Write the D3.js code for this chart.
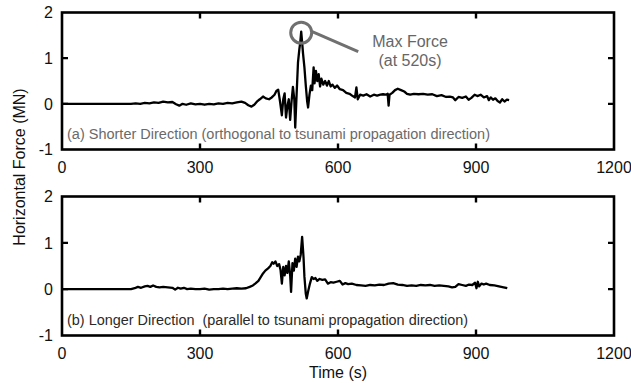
<!DOCTYPE html>
<html>
<head>
<meta charset="utf-8">
<script src="https://cdn.jsdelivr.net/npm/d3@7"></script>
<style>
  body { margin: 0; background: white; }
  svg { display: block; font-family: Arial, "Liberation Sans", sans-serif; }
</style>
</head>
<body>
<div id="app"></div>
<script>
// (a) shorter direction, time in s / force in MN
const timeA = [0,150,160,170,180,190,200,210,220,230,240,248,255,262,270,280,290,300,310,320,330,340,350,360,370,380,390,398,405,412,418,425,430,437,443,450,456,462,466,470,474,478,481,484,487,490,493,496,499,502,505,507,510,513,516,518,520,522,524,527,530,533,535,538,541,544,547,549,552,555,558,561,564,568,572,576,580,584,588,593,598,604,611,618,625,632,637,640,643,648,655,662,670,678,685,692,698,704,708,710,712,718,724,730,737,744,750,757,765,775,785,795,805,815,825,835,843,850,855,862,870,878,884,890,897,903,910,917,924,928,932,937,942,947,952,957,962,967,972]
const forceA = [0,0,0.01,0,0.02,0.01,0.03,0.02,0.05,0.03,0.04,-0.01,-0.04,0,-0.02,0.01,-0.01,0,-0.02,0,-0.01,0.01,0,0.02,0.01,0.03,0.05,0.02,-0.03,-0.06,-0.02,0.06,0.1,0.16,0.12,0.1,0.14,0.2,0.28,0.31,0.05,-0.25,0.1,0.23,-0.3,-0.05,0.1,-0.35,0.05,0.37,0.1,-0.52,0.2,0.9,1.2,1.35,1.58,1.35,1.1,0.8,0.4,0.05,-0.08,0.2,0.4,0.3,0.8,0.45,0.72,0.5,0.65,0.38,0.55,0.42,0.5,0.4,0.5,0.38,0.42,0.35,0.4,0.32,0.3,0.24,0.22,0.17,0.14,0.36,0.1,0.2,0.18,0.21,0.16,0.2,0.18,0.2,0.21,0.2,0.22,-0.04,0.2,0.24,0.3,0.33,0.3,0.27,0.22,0.2,0.22,0.21,0.22,0.2,0.21,0.17,0.19,0.15,0.16,0.14,0.08,0.15,0.13,0.16,0.09,0.13,0.2,0.17,0.2,0.14,0.17,0.08,0.14,0.09,0.12,0.06,0.03,0.1,0.05,0.09,0.08]

// (b) longer direction
const timeB = [0,150,158,165,172,180,186,192,198,205,212,220,230,240,246,252,258,265,272,280,290,300,310,320,330,340,350,360,370,380,390,400,408,415,420,427,432,437,442,448,453,457,460,464,468,472,475,478,481,484,487,490,493,496,498,501,504,507,510,513,516,519,522,525,527,530,532,535,539,543,547,551,555,560,566,572,578,584,590,597,604,610,616,622,630,640,650,660,670,680,690,700,710,720,730,740,750,760,770,780,790,800,810,820,830,840,848,855,862,870,878,885,892,898,901,904,907,912,917,922,930,940,950,960,968]
const forceB = [0,0,0.02,0.05,0.03,0.06,0.07,0.05,0.08,0.05,0.04,0.05,0.04,0.03,-0.01,0.03,0.01,0.03,0,0.01,0,0,0.01,-0.01,0,0,0.01,0,0.01,0.02,0.01,0.02,0.05,0.08,0.12,0.18,0.26,0.34,0.4,0.45,0.5,0.58,0.55,0.6,0.5,0.54,0.42,0.12,0.48,0.3,0.5,0.35,0.6,0.3,-0.06,0.56,0.4,0.66,0.48,0.7,0.6,0.75,1.13,0.7,0.27,-0.1,-0.2,-0.05,0.12,0.26,0.22,0.24,0.18,0.22,0.2,0.21,0.12,0.15,0.14,0.16,0.18,0.1,0.13,0.11,0.12,0.09,0.08,0.07,0.09,0.08,0.1,0.09,0.12,0.13,0.1,0.09,0.07,0.08,0.07,0.09,0.08,0.09,0.07,0.08,0.07,0.06,0.04,0.05,0.11,0.09,0.07,0.1,0.09,0.14,0.02,0.16,0.06,0.12,0.1,0.12,0.09,0.08,0.06,0.04,0.02]

const xTicks = [0, 300, 600, 900, 1200]
const yTicks = [-1, 0, 1, 2]
const maxTime = 520
const maxForce = 1.58

const width = 631
const height = 383
const left = 62
const right = 614

const svg = d3.select('#app')
  .append('svg')
  .attr('width', width)
  .attr('height', height)

const x = d3.scaleLinear().domain([0, 1200]).range([left, right])

const makePanel = (times, forces, top, bottom, label, labelColor, labelWidth) => {
  const y = d3.scaleLinear().domain([-1, 2]).range([bottom, top])
  const g = svg.append('g')

  // inner ticks, top/bottom and left/right
  const inner = xTicks.slice(1, -1)
  g.selectAll('.xt')
    .data(inner)
    .enter()
    .append('path')
    .attr('d', d => `M${x(d)},${bottom}v-6M${x(d)},${top}v6`)
    .attr('stroke', '#000')
    .attr('stroke-width', 2.4)

  g.selectAll('.yt')
    .data(yTicks.slice(1, -1))
    .enter()
    .append('path')
    .attr('d', d => `M${left},${y(d)}h6M${right},${y(d)}h-6`)
    .attr('stroke', '#000')
    .attr('stroke-width', 2.4)

  g.selectAll('.xl')
    .data(xTicks)
    .enter()
    .append('text')
    .attr('x', d => x(d))
    .attr('y', bottom + 23)
    .attr('text-anchor', 'middle')
    .attr('font-size', 16)
    .attr('fill', '#111')
    .text(d => d)

  g.selectAll('.yl')
    .data(yTicks)
    .enter()
    .append('text')
    .attr('x', 53)
    .attr('y', d => y(d))
    .attr('dy', '0.36em')
    .attr('text-anchor', 'end')
    .attr('font-size', 16)
    .attr('fill', '#111')
    .text(d => d)

  const pts = times.map((t, i) => [t, forces[i]])
  g.append('path')
    .datum(pts)
    .attr('fill', 'none')
    .attr('stroke', '#000')
    .attr('stroke-width', 2.3)
    .attr('stroke-linejoin', 'round')
    .attr('d', d3.line().x(d => x(d[0])).y(d => y(d[1])))

  g.append('text')
    .attr('x', 67)
    .attr('y', bottom - 10.5)
    .attr('font-size', 14)
    .attr('textLength', labelWidth)
    .attr('lengthAdjust', 'spacingAndGlyphs')
    .style('white-space', 'pre')
    .attr('fill', labelColor)
    .text(label)

  g.append('rect')
    .attr('x', left)
    .attr('y', top)
    .attr('width', right - left)
    .attr('height', bottom - top)
    .attr('fill', 'none')
    .attr('stroke', '#000')
    .attr('stroke-width', 2.6)

  return y
}

const yA = makePanel(timeA, forceA, 12.5, 149.5,
  '(a) Shorter Direction (orthogonal to tsunami propagation direction)', '#6a6a6a', 423)
makePanel(timeB, forceB, 196.5, 335.5,
  '(b) Longer Direction  (parallel to tsunami propagation direction)', '#2a2a2a', 401)

// max force callout
const cx = x(maxTime)
const cy = yA(maxForce) + 1
svg.append('circle')
  .attr('cx', cx)
  .attr('cy', cy)
  .attr('r', 10.5)
  .attr('fill', 'none')
  .attr('stroke', '#707070')
  .attr('stroke-width', 3)
svg.append('line')
  .attr('x1', cx + 11).attr('y1', cy - 1)
  .attr('x2', cx + 57).attr('y2', cy + 19)
  .attr('stroke', '#707070')
  .attr('stroke-width', 3)
svg.append('text')
  .attr('x', 410).attr('y', 46.5)
  .attr('text-anchor', 'middle')
  .attr('font-size', 16)
  .attr('fill', '#666')
  .text('Max Force')
svg.append('text')
  .attr('x', 410).attr('y', 66)
  .attr('text-anchor', 'middle')
  .attr('font-size', 16)
  .attr('fill', '#666')
  .text('(at 520s)')

// axis titles
svg.append('text')
  .attr('transform', 'translate(25,167) rotate(-90)')
  .attr('text-anchor', 'middle')
  .attr('font-size', 16)
  .attr('fill', '#111')
  .text('Horizontal Force (MN)')

svg.append('text')
  .attr('x', 338)
  .attr('y', 378)
  .attr('text-anchor', 'middle')
  .attr('font-size', 16)
  .attr('fill', '#111')
  .text('Time (s)')
</script>
</body>
</html>
